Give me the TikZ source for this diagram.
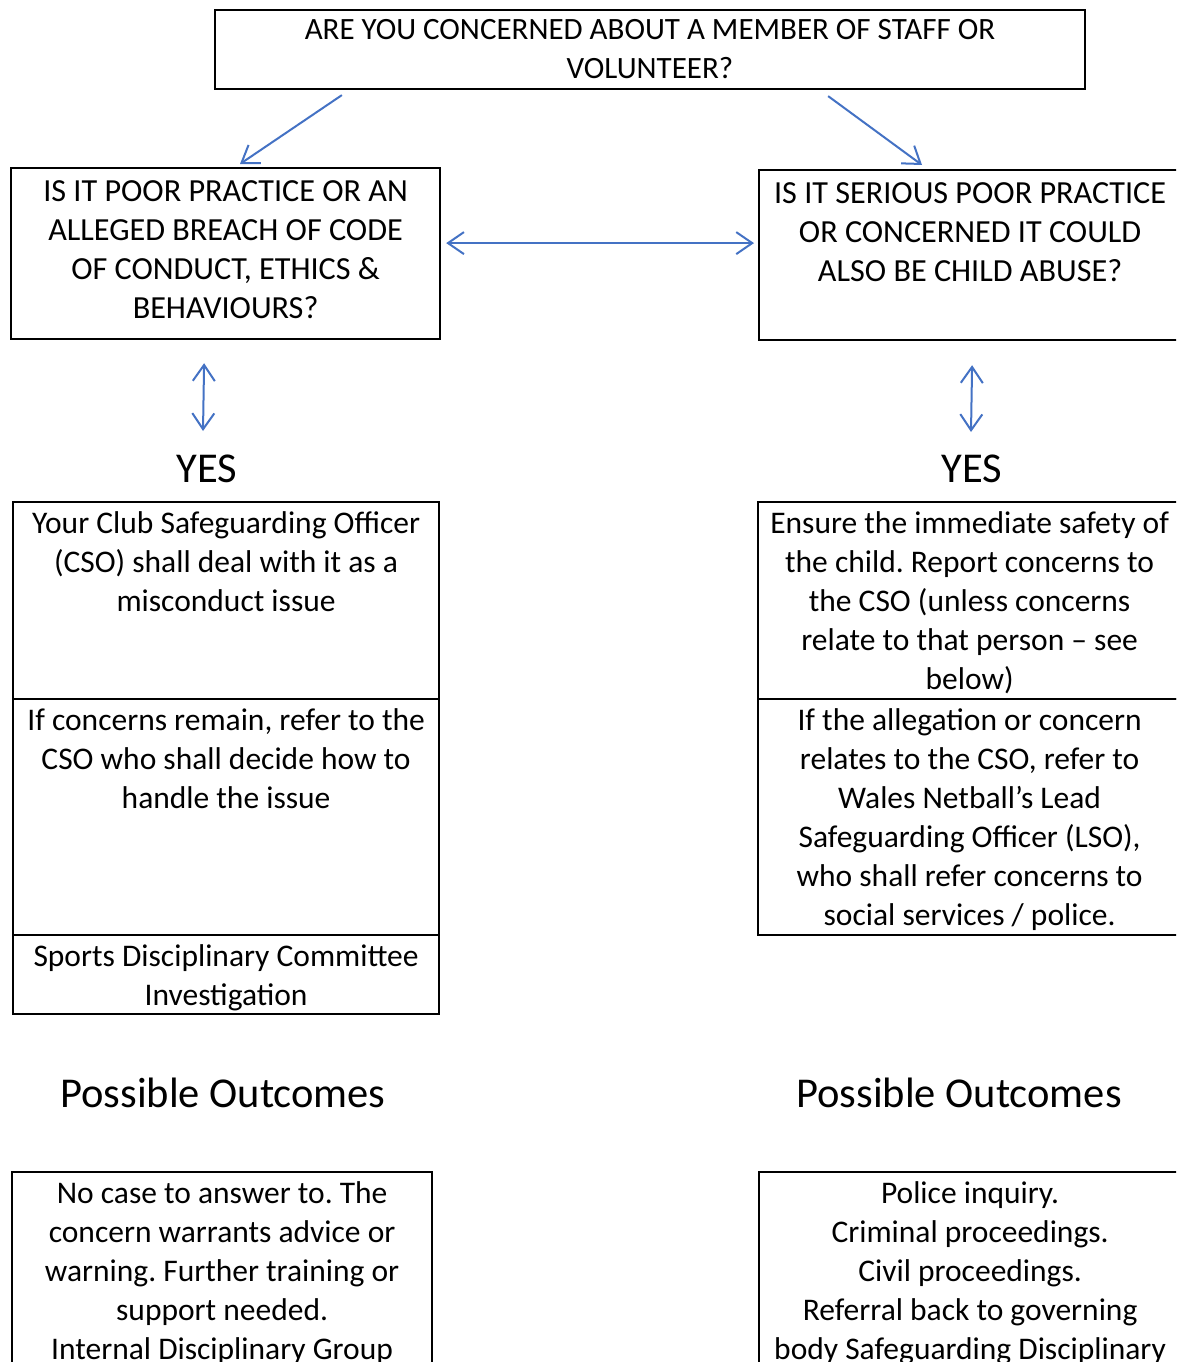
\documentclass[tikz,border=0pt]{standalone}
\usepackage{fontspec}
\setmainfont{Carlito}
\frenchspacing
\usetikzlibrary{arrows.meta}
\definecolor{linkblue}{HTML}{4472C4}
% top aligned text inside a fixed box: width, height, first baseline, text
\newcommand{\toptext}[4]{\parbox[c][#2pt][t]{#1pt}{\centering\rule{0pt}{#3pt}#4}}
\tikzset{
  barb/.tip={Straight Barb[length=16pt,width=22pt]},
  box/.style={draw=black, line width=2.2pt, inner sep=0pt, anchor=north west},
  capsbox/.style={box, font=\fontsize{32.2}{39}\selectfont},
  textbox/.style={box, font=\fontsize{31.5}{39}\selectfont},
  heading/.style={inner sep=0pt, font=\fontsize{42.5}{48}\selectfont},
  link/.style={draw=linkblue, line width=2pt, -barb},
  twoway/.style={link, barb-barb},
}
\begin{document}
\begin{tikzpicture}[x=1pt, y=-1pt]
  \useasboundingbox (0,0) rectangle (1176,1362);
  \clip (0,0) rectangle (1176,1362);

  \node[box, anchor=center, minimum width=870pt, minimum height=79pt, align=center,
        font=\fontsize{31}{39}\selectfont] (top) at (650,49.5)
       {ARE YOU CONCERNED ABOUT A MEMBER OF STAFF OR\\VOLUNTEER?};

  \node[capsbox] (lq) at (10,167) {\toptext{429}{171}{33.7}{IS IT POOR PRACTICE OR AN\\ALLEGED BREACH OF CODE\\OF CONDUCT, ETHICS \&\\BEHAVIOURS?}};
  \node[capsbox] (rq) at (758,169) {\toptext{422}{170}{33.7}{IS IT SERIOUS POOR PRACTICE\\OR CONCERNED IT COULD\\ALSO BE CHILD ABUSE?}};

  \node[heading] (yesl) at (207,469) {YES};
  \node[heading] (yesr) at (972,469) {YES};

  % left column
  \node[textbox] (ly1) at (12,501) {\toptext{426}{197}{31.3}{Your Club Safeguarding Officer\\(CSO) shall deal with it as a\\misconduct issue}};
  \node[textbox] (ly2) at (12,698) {\toptext{426}{236}{31.3}{If concerns remain, refer to the\\CSO who shall decide how to\\handle the issue}};
  \node[textbox] (ly3) at (12,934) {\toptext{426}{79}{31.3}{Sports Disciplinary Committee\\Investigation}};

  % right column
  \node[textbox] (ry1) at (757,501) {\toptext{423}{197}{31.3}{Ensure the immediate safety of\\the child. Report concerns to\\the CSO (unless concerns\\relate to that person -- see\\below)}};
  \node[textbox] (ry2) at (757,698) {\toptext{423}{236}{31.3}{If the allegation or concern\\relates to the CSO, refer to\\Wales Netball’s Lead\\Safeguarding Officer (LSO),\\who shall refer concerns to\\social services / police.}};

  \node[heading] (pol) at (223,1093) {Possible Outcomes};
  \node[heading] (por) at (959,1093) {Possible Outcomes};

  \node[textbox] (lo) at (11,1171) {\toptext{420}{260}{31.3}{No case to answer to. The\\concern warrants advice or\\warning. Further training or\\support needed.\\Internal Disciplinary Group}};
  \node[textbox] (ro) at (758,1171) {\toptext{422}{260}{31.3}{Police inquiry.\\Criminal proceedings.\\Civil proceedings.\\Referral back to governing\\body Safeguarding Disciplinary}};

  % connectors
  \draw[link] ([xshift=128pt,yshift=-5pt]top.south west) -- ([xshift=230pt,yshift=3pt]lq.north west);
  \draw[link] ([xshift=-258pt,yshift=-6pt]top.south east) -- ([xshift=164pt,yshift=4pt]rq.north west);
  \draw[twoway] ([xshift=5pt,yshift=10.5pt]lq.east) -- ([xshift=-4pt,yshift=12pt]rq.west);
  \draw[twoway] ([xshift=-21.5pt,yshift=-23pt]lq.south) -- ([xshift=-4pt,yshift=38pt]yesl.center);
  \draw[twoway] ([xshift=2pt,yshift=-24pt]rq.south) -- ([xshift=-1pt,yshift=37pt]yesr.center);
\end{tikzpicture}
\end{document}
